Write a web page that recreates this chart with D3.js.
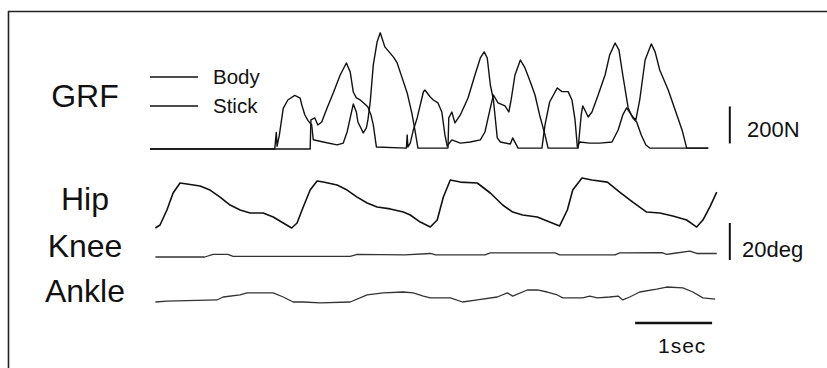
<!DOCTYPE html>
<html>
<head>
<meta charset="utf-8">
<script src="https://cdn.jsdelivr.net/npm/d3@7"></script>
<style>
  body { margin: 0; background: #fff; }
  svg text { font-family: "Liberation Sans", Arial, Helvetica, sans-serif; fill: #111; }
</style>
</head>
<body>
<div id="chart"></div>
<script>
// time in seconds, force in N, angles in degrees (relative)
const grfBody = [[0,0],[1.62,0],[1.64,90],[1.65,15],[1.68,75],[1.73,220],[1.79,265],[1.88,290],[1.95,275],[1.97,240],[2.01,185],[2.05,155],[2.10,130],[2.12,50],[2.25,38],[2.43,22],[2.51,32],[2.56,92],[2.60,168],[2.64,243],[2.68,200],[2.70,146],[2.77,87],[2.81,114],[2.83,157],[2.86,254],[2.90,455],[2.95,580],[2.99,628],[3.05,552],[3.16,498],[3.21,465],[3.27,390],[3.34,303],[3.40,195],[3.44,103],[3.48,5],[3.87,5],[3.88,168],[3.92,200],[3.96,141],[4.03,184],[4.13,276],[4.22,400],[4.29,492],[4.34,525],[4.38,492],[4.42,346],[4.46,265],[4.51,60],[4.55,38],[4.68,27],[4.71,60],[4.78,5],[5.09,5],[5.13,130],[5.19,254],[5.29,330],[5.35,310],[5.43,310],[5.48,265],[5.52,157],[5.55,11],[5.58,38],[5.71,32],[5.84,32],[6.00,38],[6.08,103],[6.14,184],[6.19,222],[6.26,179],[6.31,157],[6.36,265],[6.43,481],[6.51,568],[6.56,525],[6.62,427],[6.73,319],[6.82,211],[6.91,103],[6.97,5],[7.25,5]];

const grfStick = [[0,0],[2.08,0],[2.09,157],[2.14,168],[2.18,130],[2.23,146],[2.30,222],[2.38,303],[2.47,400],[2.55,465],[2.60,417],[2.64,308],[2.68,276],[2.73,265],[2.79,243],[2.83,227],[2.87,184],[2.90,130],[2.94,11],[3.33,5],[3.34,76],[3.35,11],[3.38,32],[3.42,103],[3.47,168],[3.55,308],[3.57,319],[3.64,281],[3.68,265],[3.74,249],[3.79,200],[3.83,76],[3.86,16],[3.92,49],[4.03,32],[4.16,38],[4.29,49],[4.35,92],[4.42,222],[4.46,292],[4.52,249],[4.61,233],[4.66,200],[4.69,265],[4.74,400],[4.81,481],[4.87,438],[4.94,362],[5.00,292],[5.06,184],[5.13,76],[5.17,5],[5.56,5],[5.57,49],[5.60,184],[5.62,233],[5.66,200],[5.69,173],[5.74,200],[5.82,292],[5.91,400],[5.97,509],[6.04,573],[6.09,536],[6.14,400],[6.21,222],[6.27,168],[6.32,146],[6.38,76],[6.44,22],[6.49,5],[7.25,5]];

const hipAngle = [[0.07,1.1],[0.13,2.7],[0.22,10.8],[0.30,20.0],[0.39,25.4],[0.48,24.9],[0.65,23.8],[0.78,21.6],[0.91,17.8],[1.04,13.5],[1.17,10.8],[1.30,9.2],[1.47,9.2],[1.60,7.0],[1.73,3.8],[1.84,1.1],[1.91,3.8],[1.99,12.4],[2.08,21.6],[2.17,26.5],[2.25,25.9],[2.43,24.3],[2.56,21.6],[2.69,17.8],[2.82,14.6],[2.95,12.4],[3.12,11.4],[3.29,9.7],[3.38,8.1],[3.51,4.3],[3.64,1.6],[3.73,5.4],[3.81,17.8],[3.90,27.0],[4.03,25.9],[4.25,25.4],[4.42,20.0],[4.58,13.5],[4.71,9.7],[4.84,8.1],[5.03,7.0],[5.19,4.3],[5.32,2.2],[5.42,10.8],[5.49,21.6],[5.61,28.1],[5.74,27.0],[5.94,25.9],[6.10,20.5],[6.27,15.1],[6.45,9.7],[6.62,9.2],[6.79,7.6],[6.97,5.4],[7.10,1.6],[7.18,5.4],[7.27,12.4],[7.36,20.5]];

const kneeAngle = [[0.07,0],[0.71,0],[0.82,1.4],[1.01,1.4],[1.08,0.3],[2.60,0.3],[2.69,1.4],[3.31,1.1],[3.64,1.9],[3.71,1.1],[4.35,1.1],[4.42,2.2],[5.26,2.2],[5.32,1.1],[6.04,1.1],[6.10,2.2],[6.65,2.4],[6.71,1.4],[6.79,1.9],[7.01,3.2],[7.10,1.9],[7.36,1.9]];

const ankleAngle = [[0.07,0],[0.22,0.5],[0.87,1.1],[0.95,2.7],[1.17,3.8],[1.26,4.9],[1.60,4.9],[1.73,2.7],[1.86,0],[1.99,0],[2.21,-0.5],[2.60,0],[2.82,3.8],[3.03,4.9],[3.29,5.4],[3.42,4.9],[3.55,3.2],[3.64,2.2],[3.90,2.2],[4.06,0],[4.25,1.1],[4.51,2.7],[4.64,4.9],[4.71,3.2],[4.90,6.5],[5.03,6.5],[5.16,5.4],[5.29,3.8],[5.36,2.2],[5.62,2.2],[5.71,3.2],[5.81,2.2],[5.97,2.7],[6.08,3.2],[6.14,1.1],[6.23,2.7],[6.36,5.4],[6.58,7.0],[6.71,8.1],[6.92,7.6],[7.05,5.4],[7.18,2.2],[7.34,1.6]];

const channelLabels = ['GRF', 'Hip', 'Knee', 'Ankle'];
const legendLabels = ['Body', 'Stick'];

const width = 827, height = 368;

const svg = d3.select('#chart')
  .append('svg')
  .attr('width', width)
  .attr('height', height);

// frame (scan border: top and left only)
svg.append('line')
  .attr('x1', 8).attr('x2', width).attr('y1', 11.5).attr('y2', 11.5)
  .attr('stroke', '#222').attr('stroke-width', 1.6);
svg.append('line')
  .attr('x1', 8.5).attr('x2', 8.5).attr('y1', 11).attr('y2', height)
  .attr('stroke', '#222').attr('stroke-width', 1.6);

const x = d3.scaleLinear().domain([0, 7.4]).range([150, 150 + 7.4 * 77]);
const yGrf = d3.scaleLinear().domain([0, 200]).range([149, 112]);
const yDeg = d3.scaleLinear().domain([0, 20]).range([0, -37]);

const grfLine = d3.line().x((d) => x(d[0])).y((d) => yGrf(d[1]));
const degLine = d3.line().x((d) => x(d[0])).y((d) => yDeg(d[1]));

[grfBody, grfStick].forEach((s) => {
  svg.append('path')
    .datum(s)
    .attr('d', grfLine)
    .attr('fill', 'none')
    .attr('stroke', '#111')
    .attr('stroke-width', 1.4)
    .attr('stroke-linejoin', 'round');
});

const angleRows = [
  { data: hipAngle, y0: 230, w: 1.6, c: '#111' },
  { data: kneeAngle, y0: 257, w: 1.3, c: '#333' },
  { data: ankleAngle, y0: 302, w: 1.3, c: '#333' }
];

const rows = angleRows.map((r) => {
  const g = svg.append('g').attr('transform', `translate(0,${r.y0})`);
  g.append('path')
    .datum(r.data)
    .attr('d', degLine)
    .attr('fill', 'none')
    .attr('stroke', r.c)
    .attr('stroke-width', r.w)
    .attr('stroke-linejoin', 'round');
  return g;
});

// channel labels
const labelY = [107, 210, 257, 302];
channelLabels.forEach((t, i) => {
  svg.append('text')
    .attr('x', 85)
    .attr('y', labelY[i])
    .attr('text-anchor', 'middle')
    .style('font-size', '32px')
    .text(t);
});

// legend
const legendY = [77, 106];
legendLabels.forEach((t, i) => {
  svg.append('line')
    .attr('x1', 150).attr('x2', 198)
    .attr('y1', legendY[i]).attr('y2', legendY[i])
    .attr('stroke', '#111').attr('stroke-width', 1.6);
  svg.append('text')
    .attr('x', 213)
    .attr('y', legendY[i] + 7)
    .style('font-size', '20.5px')
    .text(t);
});

// scale bars
svg.append('line')
  .attr('x1', x(7.53)).attr('x2', x(7.53))
  .attr('y1', yGrf(30)).attr('y2', yGrf(230))
  .attr('stroke', '#111').attr('stroke-width', 2);
svg.append('text')
  .attr('x', 747).attr('y', 137)
  .style('font-size', '22px')
  .text('200N');

rows[1].append('line')
  .attr('x1', x(7.53)).attr('x2', x(7.53))
  .attr('y1', yDeg(-1.6)).attr('y2', yDeg(18.4))
  .attr('stroke', '#111').attr('stroke-width', 2);
svg.append('text')
  .attr('x', 742).attr('y', 257)
  .style('font-size', '22px')
  .text('20deg');

svg.append('line')
  .attr('x1', x(6.3)).attr('x2', x(7.3))
  .attr('y1', 323).attr('y2', 323)
  .attr('stroke', '#111').attr('stroke-width', 2.5);
svg.append('text')
  .attr('x', 658).attr('y', 353)
  .style('font-size', '21px')
  .style('letter-spacing', '1px')
  .text('1sec');
</script>
</body>
</html>
